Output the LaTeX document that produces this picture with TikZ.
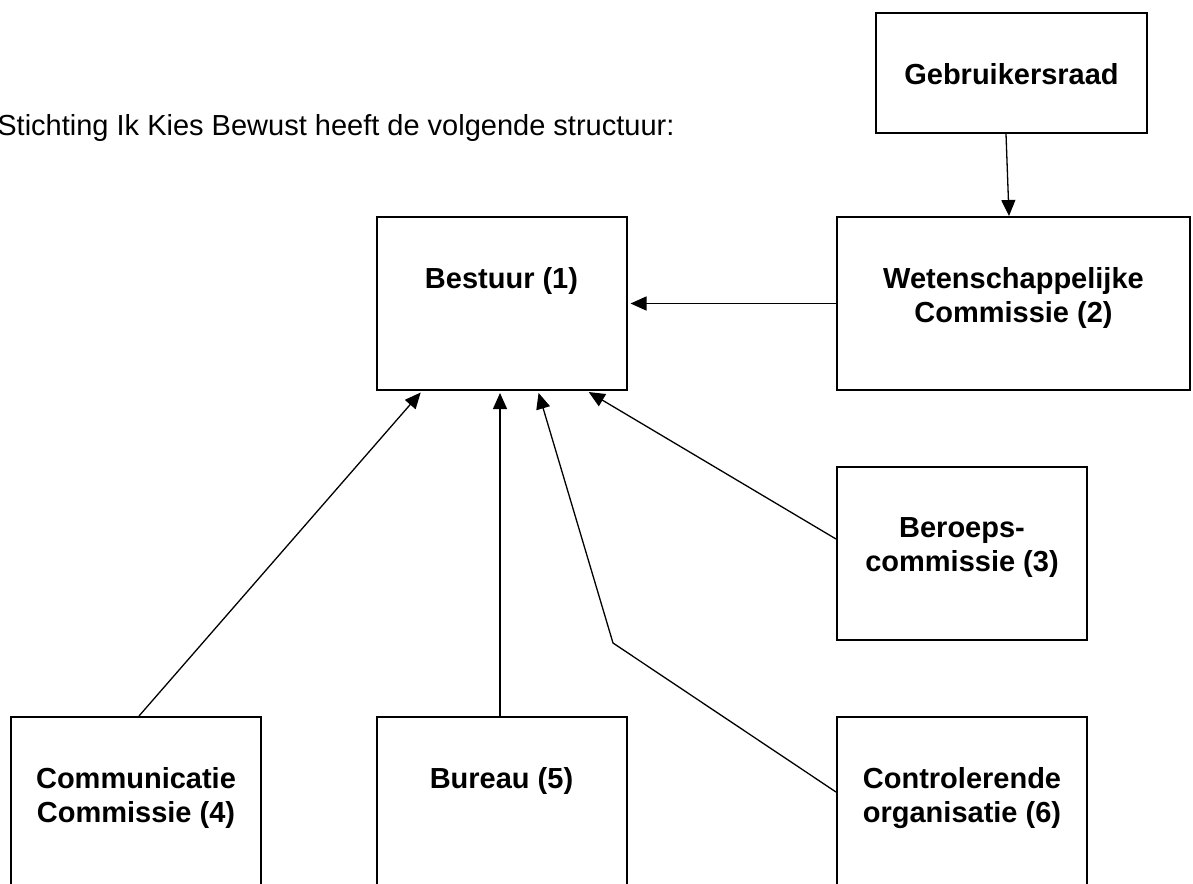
\documentclass[tikz,border=0pt]{standalone}
\usepackage{fontspec}
\setmainfont{Liberation Sans}
\usetikzlibrary{arrows.meta}

\begin{document}
\begin{tikzpicture}[x=0.5pt,y=-0.5pt]
	\tikzset{orgbox/.style={draw,line width=1pt,inner sep=0pt,minimum width=125pt,minimum height=86.5pt}}
	\tikzset{orglabel/.style={anchor=north,inner sep=0pt,align=center,yshift=-25.5pt,font=\bfseries\fontsize{14.5}{17.25}\selectfont}}
	\tikzset{link/.style={line width=0.65pt,-{Triangle[length=8pt,width=7pt]},shorten >=1pt}}
	\useasboundingbox (0,0) rectangle (1193,883);
	\clip (0,0) rectangle (1193,883);
	\node[anchor=base west,inner sep=0pt,font=\fontsize{14.5}{17.25}\selectfont] (intro) at (-3,135) {Stichting Ik Kies Bewust heeft de volgende structuur:};
	\node[orgbox,minimum width=135.5pt,minimum height=60pt] (gebr) at (1011.5,73) {};
	\node[orgbox] (bestuur) at (501.5,303.5) {};
	\node[orgbox,minimum width=176.5pt] (wet) at (1013.5,303.5) {};
	\node[orgbox] (beroeps) at (962,553.5) {};
	\node[orgbox,minimum height=100pt] (comm) at (136,817) {};
	\node[orgbox,minimum height=100pt] (bureau) at (501.5,817) {};
	\node[orgbox,minimum height=100pt] (contr) at (962,817) {};
	\node[orglabel] (gebrtxt) at (gebr.north) {Gebruikersraad};
	\node[orglabel] (bestuurtxt) at (bestuur.north) {Bestuur (1)};
	\node[orglabel] (wettxt) at (wet.north) {Wetenschappelijke\\Commissie (2)};
	\node[orglabel] (beroepstxt) at (beroeps.north) {Beroeps-\\commissie (3)};
	\node[orglabel] (commtxt) at (comm.north) {Communicatie\\Commissie (4)};
	\node[orglabel] (bureautxt) at (bureau.north) {Bureau (5)};
	\node[orglabel] (contrtxt) at (contr.north) {Controlerende\\organisatie (6)};
	\coordinate (knik) at (613,643);
	\draw[link,shorten >=0pt] ([xshift=-2.75pt]gebr.south) -- ([xshift=-2.25pt]wet.north);
	\draw[link,shorten >=1.5pt] (wet.west) -- (bestuur.east);
	\draw[link] ([yshift=7.25pt]beroeps.west) -- ([xshift=42.75pt]bestuur.south);
	\draw[link] ([xshift=1.5pt]comm.north) -- ([xshift=-39.75pt]bestuur.south);
	\draw[link] ([xshift=-0.75pt]bureau.north) -- ([xshift=-0.75pt]bestuur.south);
	\draw[link] ([yshift=12.5pt]contr.west) -- (knik) -- ([xshift=18.25pt]bestuur.south);
\end{tikzpicture}
\end{document}
